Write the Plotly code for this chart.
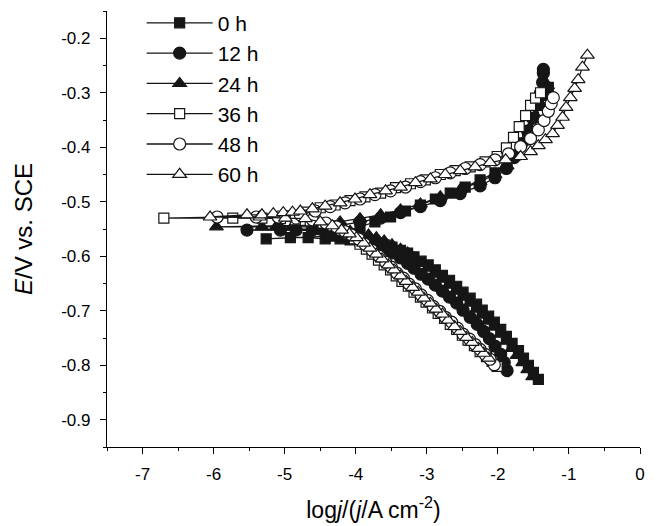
import plotly.graph_objects as go

# ---- data: log j (x) and E (y), cathodic end -> Ecorr -> anodic end ----
labels = ["0 h", "12 h", "24 h", "36 h", "48 h", "60 h"]

x_0h = [-1.43, -1.50, -1.57, -1.64, -1.71, -1.80, -1.88, -1.96, -2.05, -2.13, -2.22, -2.30, -2.39, -2.49,
        -2.58, -2.68, -2.78, -2.88, -2.98, -3.08, -3.18, -3.27, -3.37, -3.49, -3.60, -3.71, -3.82, -3.94,
        -4.08, -4.22, -4.43, -4.67, -4.92, -5.26,
        -4.36, -4.15, -3.94, -3.73, -3.51, -3.30, -3.09, -2.88, -2.67, -2.46, -2.25, -2.04, -1.87, -1.75,
        -1.67, -1.58, -1.50, -1.43, -1.36, -1.29]
y_0h = [-0.826, -0.813, -0.800, -0.787, -0.773, -0.760, -0.747, -0.734, -0.721, -0.710, -0.699, -0.688,
        -0.677, -0.666, -0.655, -0.644, -0.635, -0.625, -0.616, -0.609, -0.601, -0.594, -0.589, -0.583,
        -0.579, -0.576, -0.574, -0.572, -0.570, -0.568, -0.568, -0.566, -0.566, -0.568,
        -0.563, -0.555, -0.546, -0.537, -0.528, -0.517, -0.506, -0.495, -0.484, -0.473, -0.460, -0.447,
        -0.432, -0.414, -0.392, -0.369, -0.345, -0.323, -0.305, -0.290]

x_12h = [-1.87, -1.91, -1.96, -2.04, -2.12, -2.20, -2.29, -2.39, -2.49, -2.58, -2.68, -2.78, -2.88, -2.98,
         -3.08, -3.18, -3.27, -3.37, -3.49, -3.60, -3.71, -3.82, -3.94, -4.08, -4.22, -4.39, -4.61, -4.84,
         -5.06, -5.53,
         -4.50, -4.22, -3.94, -3.65, -3.37, -3.09, -2.81, -2.53, -2.25, -2.04, -1.88, -1.77, -1.67, -1.58,
         -1.51, -1.46, -1.40, -1.37, -1.36, -1.36]
y_12h = [-0.810, -0.795, -0.780, -0.765, -0.751, -0.738, -0.725, -0.712, -0.699, -0.686, -0.675, -0.664,
         -0.653, -0.642, -0.633, -0.622, -0.613, -0.603, -0.594, -0.585, -0.578, -0.570, -0.565, -0.559,
         -0.555, -0.554, -0.552, -0.552, -0.552, -0.552,
         -0.550, -0.544, -0.537, -0.530, -0.520, -0.509, -0.498, -0.485, -0.471, -0.456, -0.439, -0.419,
         -0.395, -0.371, -0.347, -0.323, -0.301, -0.281, -0.264, -0.257]

x_24h = [-1.51, -1.58, -1.65, -1.73, -1.80, -1.88, -1.96, -2.05, -2.13, -2.22, -2.30, -2.39, -2.49, -2.58,
         -2.68, -2.78, -2.88, -2.98, -3.08, -3.18, -3.27, -3.37, -3.49, -3.60, -3.71, -3.82, -3.94, -4.08,
         -4.22, -4.39, -4.61, -4.89, -5.12, -5.32, -5.96,
         -4.50, -4.22, -3.94, -3.65, -3.37, -3.09, -2.81, -2.53, -2.25, -2.04, -1.87, -1.74, -1.64, -1.56,
         -1.47, -1.40, -1.35, -1.30]
y_24h = [-0.821, -0.808, -0.795, -0.782, -0.769, -0.756, -0.743, -0.730, -0.719, -0.708, -0.697, -0.686,
         -0.675, -0.664, -0.653, -0.642, -0.633, -0.622, -0.613, -0.603, -0.594, -0.587, -0.579, -0.572,
         -0.566, -0.561, -0.557, -0.554, -0.550, -0.548, -0.546, -0.546, -0.546, -0.546, -0.546,
         -0.543, -0.537, -0.531, -0.524, -0.515, -0.504, -0.491, -0.478, -0.463, -0.450, -0.434, -0.414,
         -0.390, -0.366, -0.342, -0.320, -0.301, -0.287]

x_36h = [-2.01, -2.08, -2.16, -2.25, -2.33, -2.42, -2.50, -2.58, -2.67, -2.75, -2.84, -2.92, -3.01, -3.09,
         -3.18, -3.26, -3.35, -3.43, -3.51, -3.60, -3.68, -3.77, -3.85, -3.94, -4.02, -4.11, -4.20, -4.32,
         -4.46, -4.64, -4.85, -5.06, -5.32, -5.73, -6.70,
         -4.92, -4.71, -4.50, -4.29, -4.08, -3.87, -3.65, -3.44, -3.23, -3.02, -2.81, -2.60, -2.39, -2.18,
         -2.01, -1.88, -1.78, -1.70, -1.61, -1.54, -1.47, -1.40]
y_36h = [-0.802, -0.793, -0.784, -0.775, -0.764, -0.754, -0.745, -0.734, -0.725, -0.714, -0.705, -0.695,
         -0.684, -0.675, -0.666, -0.655, -0.646, -0.636, -0.625, -0.616, -0.607, -0.596, -0.587, -0.578,
         -0.568, -0.559, -0.552, -0.544, -0.539, -0.535, -0.533, -0.531, -0.530, -0.530, -0.530,
         -0.526, -0.519, -0.511, -0.506, -0.498, -0.491, -0.484, -0.474, -0.467, -0.460, -0.450, -0.443,
         -0.436, -0.427, -0.417, -0.401, -0.382, -0.362, -0.342, -0.323, -0.310, -0.300]

x_48h = [-2.05, -2.11, -2.18, -2.25, -2.32, -2.40, -2.49, -2.57, -2.65, -2.74, -2.82, -2.91, -2.99, -3.08,
         -3.16, -3.25, -3.33, -3.42, -3.50, -3.58, -3.67, -3.77, -3.87, -3.96, -4.06, -4.15, -4.27, -4.42,
         -4.61, -4.84, -5.09, -5.40, -5.95,
         -4.78, -4.57, -4.36, -4.15, -3.94, -3.73, -3.51, -3.30, -3.09, -2.88, -2.67, -2.46, -2.25, -2.04,
         -1.85, -1.68, -1.54, -1.43, -1.35, -1.29, -1.25, -1.22]
y_48h = [-0.799, -0.789, -0.780, -0.771, -0.762, -0.752, -0.743, -0.732, -0.721, -0.712, -0.701, -0.692,
         -0.681, -0.671, -0.660, -0.651, -0.640, -0.631, -0.620, -0.611, -0.600, -0.589, -0.578, -0.568,
         -0.561, -0.555, -0.546, -0.539, -0.533, -0.530, -0.528, -0.528, -0.528,
         -0.524, -0.517, -0.509, -0.502, -0.495, -0.487, -0.480, -0.473, -0.463, -0.456, -0.447, -0.439,
         -0.432, -0.423, -0.412, -0.399, -0.384, -0.368, -0.351, -0.334, -0.320, -0.309]

x_60h = [-2.13, -2.20, -2.27, -2.36, -2.44, -2.53, -2.61, -2.70, -2.78, -2.87, -2.95, -3.04, -3.12, -3.20,
         -3.29, -3.37, -3.46, -3.54, -3.63, -3.71, -3.80, -3.89, -3.99, -4.09, -4.20, -4.33, -4.50, -4.71,
         -4.99, -5.35, -6.05,
         -5.53, -5.32, -5.16, -5.02, -4.89, -4.78, -4.61, -4.43, -4.22, -4.01, -3.80, -3.58, -3.37, -3.16,
         -2.95, -2.74, -2.53, -2.32, -2.11, -1.89, -1.68, -1.54, -1.43, -1.33, -1.23, -1.16, -1.09, -1.04,
         -0.98, -0.92, -0.87, -0.81, -0.74]
y_60h = [-0.787, -0.778, -0.769, -0.758, -0.749, -0.738, -0.729, -0.717, -0.706, -0.697, -0.686, -0.677,
         -0.666, -0.657, -0.646, -0.636, -0.625, -0.616, -0.605, -0.596, -0.585, -0.576, -0.566, -0.559,
         -0.552, -0.544, -0.537, -0.531, -0.530, -0.528, -0.528,
         -0.524, -0.524, -0.522, -0.520, -0.519, -0.517, -0.513, -0.508, -0.502, -0.495, -0.487, -0.480,
         -0.473, -0.465, -0.458, -0.450, -0.443, -0.436, -0.428, -0.423, -0.417, -0.408, -0.397, -0.386,
         -0.375, -0.360, -0.345, -0.327, -0.309, -0.292, -0.276, -0.253, -0.231]

x_ticks = [-7, -6, -5, -4, -3, -2, -1, 0]
x_ticktext = ["-7", "-6", "-5", "-4", "-3", "-2", "-1", "0"]
y_ticks = [-0.9, -0.8, -0.7, -0.6, -0.5, -0.4, -0.3, -0.2]
y_ticktext = ["-0.9", "-0.8", "-0.7", "-0.6", "-0.5", "-0.4", "-0.3", "-0.2"]

xs = [x_0h, x_12h, x_24h, x_36h, x_48h, x_60h]
ys = [y_0h, y_12h, y_24h, y_36h, y_48h, y_60h]
symbols = ["square", "circle", "triangle-up", "square-open", "circle-open", "triangle-up-open"]
sizes = [10, 12, 12, 10, 12, 12]

INK = "#161616"
FONT = "Liberation Sans, Arial, sans-serif"

fig = go.Figure()
for lab, xv, yv, sym, sz in zip(labels, xs, ys, symbols, sizes):
    is_open = sym.endswith("-open")
    base = sym.replace("-open", "")
    fig.add_trace(go.Scatter(
        x=xv, y=yv, name=lab, mode="lines+markers",
        line=dict(color=INK, width=1.3),
        marker=dict(symbol=base, size=sz,
                    color="white" if is_open else INK,
                    line=dict(color=INK, width=1.2)),
    ))

axis_common = dict(
    showline=True, linecolor="black", linewidth=1.3, mirror=False,
    ticks="outside", ticklen=6, tickwidth=1.3, tickcolor="black",
    showgrid=False, zeroline=False,
    tickfont=dict(family=FONT, size=17, color="black"),
)

fig.update_xaxes(
    range=[-7.5, 0], tickmode="array", tickvals=x_ticks, ticktext=x_ticktext,
    ticklabelstandoff=5,
    minor=dict(tickmode="linear", tick0=-7.5, dtick=0.5, ticks="outside", ticklen=3,
               tickwidth=1.3, tickcolor="black", showgrid=False),
    title=dict(text="log<i>j</i>/(<i>j</i>/A cm<sup>-2</sup>)", font=dict(family=FONT, size=23, color="black"),
               standoff=19),
    **axis_common,
)
fig.update_yaxes(
    range=[-0.95, -0.15], tickmode="array", tickvals=y_ticks, ticktext=y_ticktext,
    ticklabelstandoff=6,
    minor=dict(tickmode="linear", tick0=-0.95, dtick=0.05, ticks="outside", ticklen=3,
               tickwidth=1.3, tickcolor="black", showgrid=False),
    title=dict(text="<i>E</i>/V vs. SCE", font=dict(family=FONT, size=24, color="black"), standoff=21),
    **axis_common,
)

fig.update_layout(
    width=659, height=526,
    margin=dict(l=107, r=19, t=11, b=79, autoexpand=False),
    paper_bgcolor="white", plot_bgcolor="white",
    font=dict(family=FONT, size=17, color="black"),
    showlegend=True,
    legend=dict(x=0.065, xref="paper", y=0.995, yref="container", xanchor="left", yanchor="top",
                bgcolor="rgba(0,0,0,0)",
                font=dict(family=FONT, size=21, color="black"),
                itemwidth=66, itemsizing="trace"),
)

fig.write_html("out.html")
